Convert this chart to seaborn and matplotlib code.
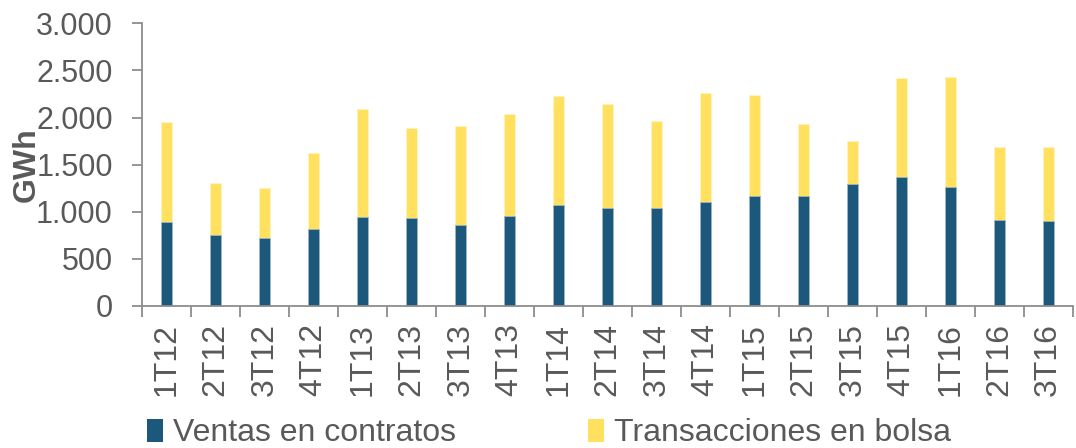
import matplotlib
matplotlib.use("Agg")
import matplotlib.pyplot as plt
import seaborn as sns
import numpy as np
from matplotlib.ticker import FuncFormatter, FixedLocator
from matplotlib.patches import Patch

categorias = ["1T12", "2T12", "3T12", "4T12", "1T13", "2T13", "3T13", "4T13",
              "1T14", "2T14", "3T14", "4T14", "1T15", "2T15", "3T15", "4T15",
              "1T16", "2T16", "3T16"]
ventas_contratos = [887, 753, 721, 820, 944, 934, 859, 958,
                    1076, 1037, 1044, 1100, 1164, 1164, 1292, 1370,
                    1267, 916, 905]
transacciones_bolsa = [1065, 557, 529, 806, 1147, 955, 1051, 1080,
                       1150, 1104, 916, 1161, 1072, 767, 458, 1047,
                       1161, 770, 778]
y_ticks = [0, 500, 1000, 1500, 2000, 2500, 3000]

AZUL = "#1B587C"
AMARILLO = "#FFE05F"
GRIS_TXT = "#595959"
GRIS_EJE = "#8C8C8C"

sns.set_theme(style="white")
plt.rcParams["font.family"] = ["Liberation Sans", "DejaVu Sans"]

fig = plt.figure(figsize=(10.76, 4.48), dpi=100)
ax = fig.add_axes([0.132, 0.317, 0.865, 0.631])

totales = [v + t for v, t in zip(ventas_contratos, transacciones_bolsa)]
sns.barplot(x=categorias, y=totales, color=AMARILLO, saturation=1, width=0.235,
            ax=ax, edgecolor="#FFF4C0", linewidth=0.6)
sns.barplot(x=categorias, y=ventas_contratos, color=AZUL, saturation=1, width=0.235,
            ax=ax, edgecolor="#9DB6C6", linewidth=0.6)

ax.set_xlim(-0.5, len(categorias) - 0.5)
ax.set_ylim(0, 3000)
ax.yaxis.set_major_locator(FixedLocator(y_ticks))
ax.yaxis.set_major_formatter(FuncFormatter(lambda v, p: f"{int(v):,}".replace(",", ".")))

for s in ["top", "right"]:
    ax.spines[s].set_visible(False)
for s in ["left", "bottom"]:
    ax.spines[s].set_color(GRIS_EJE)
    ax.spines[s].set_linewidth(1.3)

ax.tick_params(axis="y", which="major", direction="out", length=7, width=1.3,
               color=GRIS_EJE, labelsize=22, labelcolor=GRIS_TXT, pad=14, left=True)
ax.tick_params(axis="x", which="major", length=0, labelsize=23, labelcolor=GRIS_TXT,
               pad=12, labelrotation=90)
ax.set_xticks(np.arange(-0.5, len(categorias), 1.0), minor=True)
ax.tick_params(axis="x", which="minor", direction="out", length=8, width=1.3,
               color=GRIS_EJE, bottom=True)
ax.set_xlabel("")
ax.set_ylabel("GWh", fontsize=23, fontweight="bold", color=GRIS_TXT)
ax.yaxis.set_label_coords(-0.108, 0.5)

handles = [Patch(facecolor=AZUL, edgecolor="none"),
           Patch(facecolor=AMARILLO, edgecolor="none")]
fig.legend(handles, ["Ventas en contratos", "Transacciones en bolsa"],
           loc="lower left", bbox_to_anchor=(0.110, -0.065), ncol=2, frameon=False,
           fontsize=23, labelcolor=GRIS_TXT, handlelength=0.5, handleheight=0.75,
           handletextpad=0.3, columnspacing=4.15)

fig.savefig("out.png", dpi=100)
